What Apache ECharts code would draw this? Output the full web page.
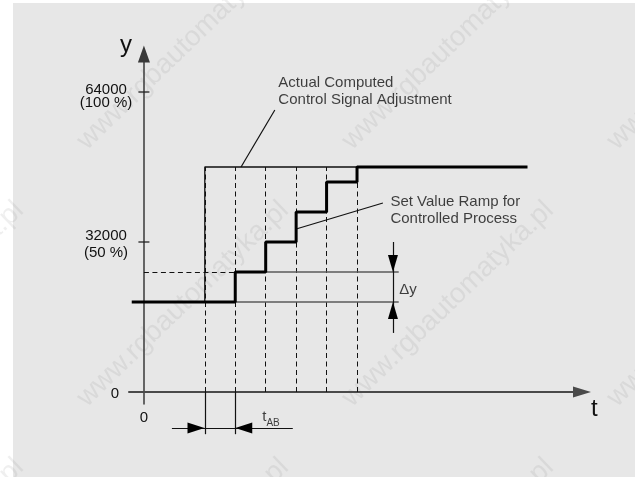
<!DOCTYPE html>
<html>
<head>
<meta charset="utf-8">
<script src="https://cdn.jsdelivr.net/npm/echarts@6/dist/echarts.min.js"></script>
<style>
  html, body { margin: 0; padding: 0; background: #fff; }
  #chart { width: 635px; height: 477px; }
</style>
</head>
<body>
<div id="chart"></div>
<script>
const FONT = '"Liberation Sans", Arial, sans-serif';

// set value ramp for the controlled process (thick staircase)
const rampT = [-0.4, 3, 4, 5, 6, 7, 12.6];
const rampY = [19200, 25600, 32000, 38400, 44800, 48000, 48000];
// actual computed control signal adjustment (thin)
const actualT = [2, 2, 7];
const actualY = [19200, 48000, 48000];
// dashed guides at each step time
const guideT = [2, 3, 4, 5, 6, 7];
const guideTop = 48000;
// y axis labels / ticks
const yLabelValues = [0, 32000, 64000];
const yLabelTexts = ["0", "32000\n(50 %)", "64000\n(100 %)"];
const yTickValues = [32000, 64000];
const xLabelValues = [0];
// delta y and t_AB
const dyLow = 19200;
const dyHigh = 25600;
const tabFrom = 2;
const tabTo = 3;

const pts = (xs, ys) => xs.map((x, i) => [x, ys[i]]);

const black = "#111";
const seg = (a, b) => ({ coords: [a, b] });

// watermark tiles
const watermark = [];
for (let c = 0; c < 4; c++) {
  for (let r = 0; r < 3; r++) {
    watermark.push({
      type: "text",
      x: -82 + c * 265,
      y: 47 + r * 257,
      rotation: 44 * Math.PI / 180,
      z: -9,
      silent: true,
      style: {
        text: "www.rgbautomatyka.pl",
        font: '28px "Liberation Sans", Arial, sans-serif',
        fill: "rgba(110,110,110,0.11)",
        align: "center",
        verticalAlign: "middle",
      },
    });
  }
}

function yLabel(v) {
  const t = yLabelTexts[yLabelValues.indexOf(v)];
  if (v === 0) return "{z|" + t + "}";
  const [a, b] = t.split("\n");
  // the top label sits a little lower under its tick
  return v === 64000 ? "{d|" + a + "}\n{n|" + b + "}" : a + "\n" + b;
}

const chart = echarts.init(document.getElementById("chart"), null, { renderer: "canvas" });

chart.setOption({
  animation: false,
  backgroundColor: "#fff",
  textStyle: { fontFamily: FONT },
  graphic: [
    { type: "rect", z: -10, silent: true, shape: { x: 13, y: 3, width: 622, height: 474 }, style: { fill: "#e7e7e7" } },
    ...watermark,
  ],
  grid: { left: 129, right: 53, top: 54, bottom: 73, outerBoundsMode: "none" },
  xAxis: {
    type: "value",
    min: -0.49,
    max: 14.39,
    name: "t",
    nameLocation: "end",
    nameGap: 9,
    nameTextStyle: { fontFamily: FONT, fontSize: 24, color: black, verticalAlign: "top", lineHeight: 34 },
    axisLine: {
      onZero: true,
      symbol: ["none", "triangle"],
      symbolSize: [11, 18],
      lineStyle: { color: "#4a4a4a", width: 2 },
    },
    axisTick: { show: false },
    splitLine: { show: false },
    axisLabel: {
      customValues: xLabelValues,
      margin: 6,
      fontFamily: FONT,
      fontSize: 15,
      color: black,
    },
  },
  yAxis: {
    type: "value",
    min: -2560,
    max: 72107,
    name: "y",
    nameLocation: "end",
    nameGap: -3,
    nameTextStyle: { fontFamily: FONT, fontSize: 24, color: black, padding: [0, 36, 0, 0] },
    axisLine: {
      onZero: true,
      symbol: ["none", "triangle"],
      symbolSize: [12, 17],
      lineStyle: { color: "#3a3a3a", width: 1.5 },
    },
    axisTick: { show: false },
    splitLine: { show: false },
    axisLabel: {
      customValues: yLabelValues,
      margin: 23,
      align: "center",
      fontFamily: FONT,
      fontSize: 15,
      lineHeight: 17,
      color: black,
      padding: [4, 0, 0, 0],
      formatter: yLabel,
      rich: {
        z: { fontFamily: FONT, fontSize: 15, color: black, padding: [0, 0, 0, 18] },
        d: { fontFamily: FONT, fontSize: 15, lineHeight: 17, color: black, padding: [14, 0, 0, 0] },
        n: { fontFamily: FONT, fontSize: 15, lineHeight: 23, color: black },
      },
    },
  },
  series: [
    {
      name: "guides",
      type: "lines",
      coordinateSystem: "cartesian2d",
      clip: false,
      silent: true,
      z: 3,
      lineStyle: { color: black, width: 1, type: [5, 3.5], opacity: 1 },
      data: [
        ...guideT.map((t) => seg([t, 0], [t, guideTop])),
        seg([0, dyHigh], [tabTo, dyHigh]),
      ],
    },
    {
      name: "dy levels",
      type: "lines",
      coordinateSystem: "cartesian2d",
      clip: false,
      silent: true,
      z: 3,
      lineStyle: { color: "#5a5a5a", width: 1.5, opacity: 1 },
      data: [seg([tabTo, dyLow], [8.37, dyLow]), seg([tabTo, dyHigh], [8.37, dyHigh])],
    },
    {
      name: "markers",
      type: "lines",
      coordinateSystem: "cartesian2d",
      clip: false,
      silent: true,
      z: 4,
      lineStyle: { color: black, width: 1.2, opacity: 1 },
      data: [
        seg([8.18, 12600], [8.18, 32000]),
        seg([tabFrom, 0], [tabFrom, -9000]),
        seg([tabTo, 0], [tabTo, -9000]),
        seg([0.92, -7680], [4.89, -7680]),
        seg([4.3, 60160], [3.19, 48000]),
        seg([5.0, 34770], [7.85, 40320]),
      ],
    },
    {
      name: "Actual Computed Control Signal Adjustment",
      type: "line",
      clip: false,
      silent: true,
      symbol: "none",
      z: 5,
      lineStyle: { color: black, width: 1.3 },
      data: pts(actualT, actualY),
    },
    {
      name: "Set Value Ramp for Controlled Process",
      type: "line",
      step: "end",
      clip: false,
      silent: true,
      symbol: "none",
      z: 6,
      lineStyle: { color: "#000", width: 3 },
      data: pts(rampT, rampY),
    },
    {
      name: "arrows",
      type: "scatter",
      clip: false,
      silent: true,
      z: 7,
      symbol: "triangle",
      symbolSize: [10, 17],
      itemStyle: { color: "#000", opacity: 1 },
      data: [
        { value: [8.18, 27413], symbolRotate: 180 },
        { value: [8.18, 17387], symbolRotate: 0 },
        { value: [1.71, -7680], symbolRotate: -90, symbolSize: [11, 17] },
        { value: [3.28, -7680], symbolRotate: 90, symbolSize: [11, 17] },
      ],
    },
    {
      name: "ticks",
      type: "scatter",
      clip: false,
      silent: true,
      z: 7,
      symbol: "rect",
      symbolSize: [11, 1.3],
      itemStyle: { color: "#222", opacity: 1 },
      data: yTickValues.map((v) => [0, v]),
    },
    {
      name: "notes",
      type: "scatter",
      clip: false,
      silent: true,
      z: 8,
      symbolSize: 1,
      itemStyle: { color: "transparent" },
      label: {
        show: true,
        position: "right",
        distance: 0,
        fontFamily: FONT,
        fontSize: 15,
        lineHeight: 17,
        color: black,
      },
      data: [
        { value: [4.4, 64100], label: { formatter: "Actual Computed\nControl Signal Adjustment" } },
        { value: [8.08, 38720], label: { formatter: "Set Value Ramp for\nControlled Process" } },
        { value: [8.37, 21760], label: { formatter: "\u0394y" } },
        {
          value: [3.87, -5400],
          label: {
            formatter: "{t|t}{s|AB}",
            rich: {
              t: { fontFamily: FONT, fontSize: 15, color: black },
              s: { fontFamily: FONT, fontSize: 10, color: black, padding: [11, 0, 0, 0] },
            },
          },
        },
      ],
    },
  ],
});
</script>
</body>
</html>
